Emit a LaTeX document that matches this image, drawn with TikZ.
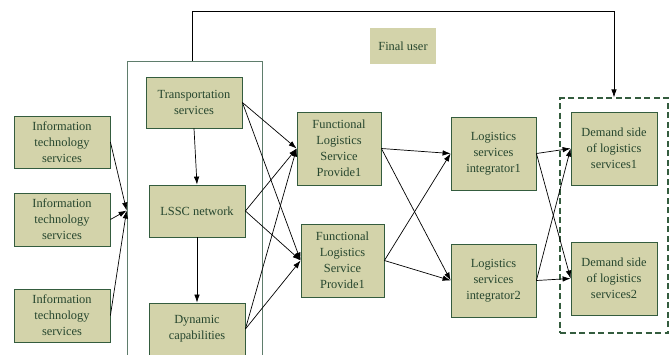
\documentclass[tikz,border=0pt]{standalone}
\usepackage{fontspec}
\setmainfont{Liberation Serif}
\usepackage{tikz}
\usetikzlibrary{arrows.meta}
\usepackage{xcolor}
\definecolor{boxfill}{RGB}{211,211,170}
\definecolor{boxline}{RGB}{52,92,62}
\definecolor{boxtext}{RGB}{38,70,46}
\definecolor{coreline}{RGB}{95,125,108}

\begin{document}
\begin{tikzpicture}[x=1pt,y=-1pt,>={Latex[length=8pt,width=5.5pt]},
  font=\fontsize{12.4}{16}\selectfont,
  box/.style={draw=boxline,fill=boxfill,text=boxtext,align=center,inner sep=1pt,line width=0.8pt},
  link/.style={->,line width=0.7pt}]
\useasboundingbox (0,0) rectangle (670,354);
% group round the three inner blocks
\node[draw=coreline,line width=0.8pt,minimum width=135,minimum height=299] (core) at (194.5,210.5) {};
\node[draw=boxline,dashed,line width=1.2pt,dash pattern=on 6pt off 3.5pt,minimum width=108,minimum height=235] (demand) at (614,215.5) {};
% left column
\node[box,minimum width=96,minimum height=52] (it1) at (62,142) {Information\\technology\\services};
\node[box,minimum width=96,minimum height=53] (it2) at (62,219.5) {Information\\technology\\services};
\node[box,minimum width=96,minimum height=53] (it3) at (62,315.5) {Information\\technology\\services};
% inner blocks
\node[box,minimum width=96,minimum height=51] (ts) at (194,102.5) {Transportation\\services};
\node[box,minimum width=96,minimum height=52] (lssc) at (197,211) {LSSC network};
\node[box,minimum width=96,minimum height=52] (dyn) at (197,329) {Dynamic\\capabilities};
% providers and integrators
\node[box,minimum width=84,minimum height=73] (fl1) at (339,148.5) {Functional\\Logistics\\Service\\Provide1};
\node[box,minimum width=83,minimum height=73] (fl2) at (342.5,260.5) {Functional\\Logistics\\Service\\Provide1};
\node[box,minimum width=85,minimum height=73] (int1) at (493.5,153.5) {Logistics\\services\\integrator1};
\node[box,minimum width=85,minimum height=73] (int2) at (493.5,280.5) {Logistics\\services\\integrator2};
\node[box,minimum width=86,minimum height=73] (ds1) at (614,148.5) {Demand side\\of logistics\\services1};
\node[box,minimum width=86,minimum height=73] (ds2) at (614,278.5) {Demand side\\of logistics\\services2};
\node[box,draw=none,minimum width=66,minimum height=36] (fu) at (403,46) {Final user};
% connectors
\draw[link] (it1.east) -- (core.west);
\draw[link] (it2.east) -- (core.west);
\draw[link] (it3.east) -- (core.west);
\draw[link] (ts.south) -- (lssc.north);
\draw[link] (lssc.south) -- (dyn.north);
\foreach \s in {ts,lssc,dyn}{
  \draw[link] (\s.east) -- (fl1.west);
  \draw[link] (\s.east) -- (fl2.west);
}
\foreach \s in {fl1,fl2}{
  \draw[link] (\s.east) -- (int1.west);
  \draw[link] (\s.east) -- (int2.west);
}
\foreach \s in {int1,int2}{
  \draw[link] (\s.east) -- (ds1.west);
  \draw[link] (\s.east) -- (ds2.west);
}
\draw[link] ([xshift=-2.5]core.north) -- ++(0,-49) -| (demand.north);
\end{tikzpicture}
\end{document}
